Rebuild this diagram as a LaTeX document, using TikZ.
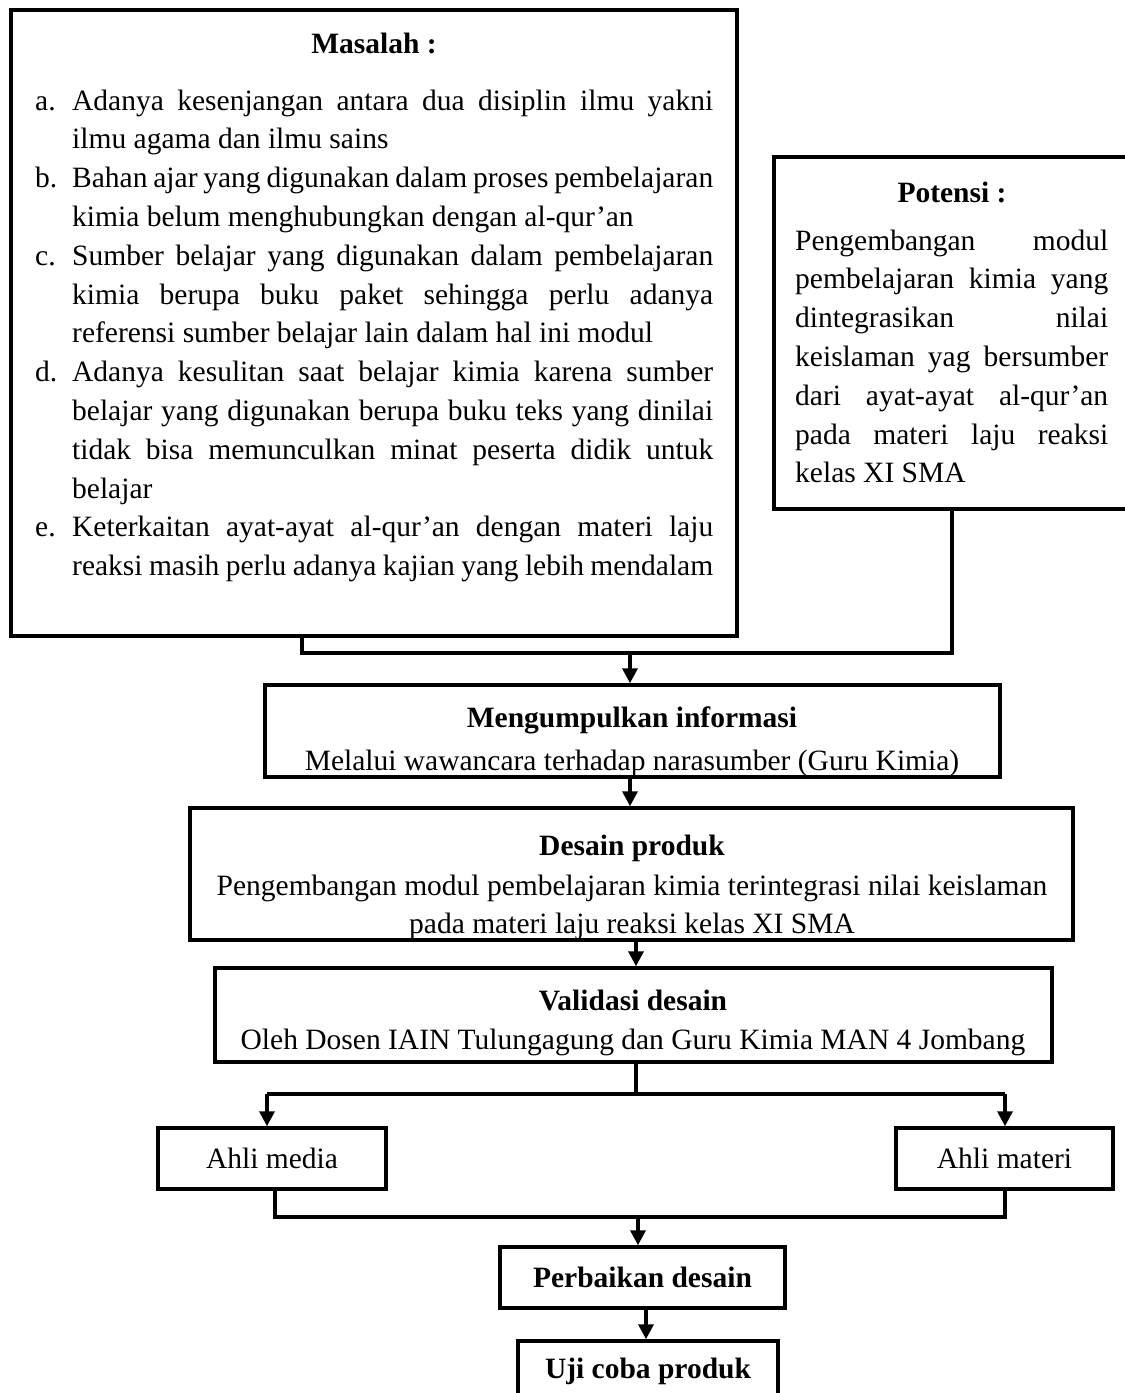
\documentclass[tikz,border=0pt]{standalone}
\usepackage{fontspec}
\setmainfont{Liberation Serif}
\usetikzlibrary{arrows.meta}
\begin{document}
\begin{tikzpicture}[x=1pt,y=-1pt,
  every node/.style={font=\fontsize{29.5}{38.8}\selectfont, inner sep=0pt},
  box/.style={draw, line width=3.5pt},
  heavybox/.style={draw, line width=4pt},
  conn/.style={line width=3.5pt},
  arr/.style={line width=3.5pt, -{Triangle[length=15pt,width=15pt]}},
  ttl/.style={font=\fontsize{29.5}{38.8}\selectfont\bfseries, anchor=base},
  txt/.style={anchor=base},
  lbl/.style={anchor=base west},
  para/.style={anchor=base west, align=justify,
    execute at begin node={\hyphenpenalty=10000\exhyphenpenalty=10000\tolerance=9999\emergencystretch=20pt}}]
\useasboundingbox (0,0) rectangle (1125,1393);
\clip (0,0) rectangle (1125,1393);
\fill[white] (0,0) rectangle (1125,1393);

% Masalah
\node[heavybox, minimum width=726pt, minimum height=626pt] (mas) at (374,323) {};
\node[ttl] (mastitle) at (374,53) {Masalah :};
\node[lbl] (la) at (35,110) {a.};
\node[para, text width=641pt] (ia) at (72,110) {Adanya kesenjangan antara dua disiplin ilmu yakni\linebreak ilmu agama dan ilmu sains};
\node[lbl] (lb) at (35,187.6) {b.};
\node[para, text width=641pt] (ib) at (72,187.6) {Bahan ajar yang digunakan dalam proses pembelajaran\linebreak kimia belum menghubungkan dengan al-qur’an};
\node[lbl] (lc) at (35,265.2) {c.};
\node[para, text width=641pt] (ic) at (72,265.2) {Sumber belajar yang digunakan dalam pembelajaran\linebreak kimia berupa buku paket sehingga perlu adanya\linebreak referensi sumber belajar lain dalam hal ini modul};
\node[lbl] (ld) at (35,381.6) {d.};
\node[para, text width=641pt] (id) at (72,381.6) {Adanya kesulitan saat belajar kimia karena sumber\linebreak belajar yang digunakan berupa buku teks yang dinilai\linebreak tidak bisa memunculkan minat peserta didik untuk\linebreak belajar};
\node[lbl] (le) at (35,536.8) {e.};
\node[para, text width=641pt] (ie) at (72,536.8) {Keterkaitan ayat-ayat al-qur’an dengan materi laju\linebreak reaksi masih perlu adanya kajian yang lebih mendalam};

% Potensi
\node[heavybox, minimum width=366pt, minimum height=352pt] (pot) at (957,333) {};
\node[ttl] (pottitle) at (952,202) {Potensi :};
\node[para, text width=313pt] (potlist) at (795,250) {Pengembangan modul\linebreak pembelajaran kimia yang\linebreak dintegrasikan nilai\linebreak keislaman yag bersumber\linebreak dari ayat-ayat al-qur’an\linebreak pada materi laju reaksi\linebreak kelas XI SMA};

% Mengumpulkan informasi
\node[ttl] (mkt) at (632,727) {Mengumpulkan informasi};
\node[txt] (mks) at (632,770) {Melalui wawancara terhadap narasumber (Guru Kimia)};
\node[box, minimum width=735pt, minimum height=92pt] (mk) at (632.5,731) {};

% Desain produk
\node[ttl] (dst) at (632,855) {Desain produk};
\node[txt] (ds2) at (632,895) {Pengembangan modul pembelajaran kimia terintegrasi nilai keislaman};
\node[txt] (ds3) at (632,933) {pada materi laju reaksi kelas XI SMA};
\node[box, minimum width=883pt, minimum height=132pt] (ds) at (631.5,874) {};

% Validasi desain
\node[ttl] (vat) at (633,1010) {Validasi desain};
\node[txt] (vas) at (633,1049) {Oleh Dosen IAIN Tulungagung dan Guru Kimia MAN 4 Jombang};
\node[box, minimum width=837pt, minimum height=94pt] (va) at (633.5,1015) {};

% Ahli
\node[box, minimum width=228pt, minimum height=61pt] (am) at (272,1158.5) {Ahli media};
\node[box, minimum width=217pt, minimum height=61pt] (ami) at (1004.5,1158.5) {Ahli materi};

% Perbaikan, Uji coba
\node[box, minimum width=285pt, minimum height=61pt, font=\fontsize{29.5}{38.8}\selectfont\bfseries] (pb) at (642.5,1277.5) {Perbaikan desain};
\node[box, minimum width=260pt, minimum height=60pt, font=\fontsize{29.5}{38.8}\selectfont\bfseries] (uj) at (648,1371) {Uji coba produk};

% connectors
\coordinate (c1) at (302,653);
\coordinate (c2) at (952,653);
\coordinate (c3) at (630,653);
\draw[conn] (mas.south -| c1) -- (c1) -- (c2) -- (pot.south -| c2);
\draw[arr] (c3) -- (c3 |- mk.north);
\coordinate (c4) at (630,777);
\draw[arr] (mk.south -| c4) -- (ds.north -| c4);
\coordinate (c5) at (636,940);
\draw[arr] (ds.south -| c5) -- (va.north -| c5);
\coordinate (b0) at (636,1094);
\coordinate (bl) at (267,1094);
\coordinate (br) at (1005,1094);
\draw[conn] (va.south -| b0) -- (b0);
\draw[conn] (bl) -- (br);
\draw[arr] (bl) -- (bl |- am.north);
\draw[arr] (br) -- (br |- ami.north);
\coordinate (j1) at (275,1217);
\coordinate (j2) at (1005,1217);
\coordinate (j3) at (638,1217);
\draw[conn] (am.south -| j1) -- (j1) -- (j2) -- (ami.south -| j2);
\draw[arr] (j3) -- (j3 |- pb.north);
\coordinate (j4) at (646,1308);
\draw[arr] (pb.south -| j4) -- (uj.north -| j4);
\end{tikzpicture}
\end{document}
